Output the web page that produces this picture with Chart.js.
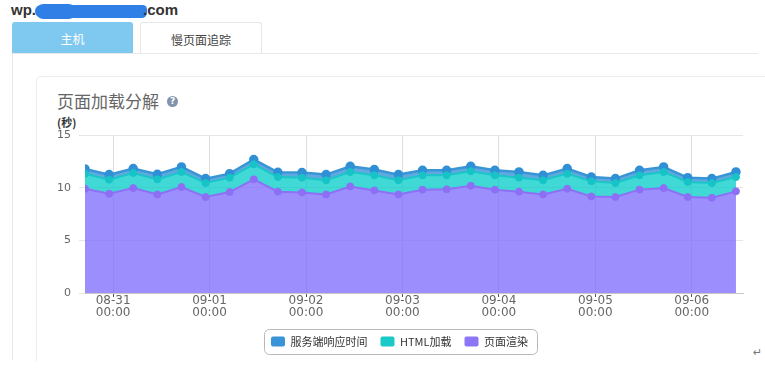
<!DOCTYPE html>
<html><head><meta charset="utf-8">
<script src="https://cdn.jsdelivr.net/npm/chart.js@4/dist/chart.umd.min.js"></script>
<style>
html,body{margin:0;padding:0;background:#fff;width:765px;height:381px;overflow:hidden;font-family:"Noto Sans CJK SC","Liberation Sans",sans-serif;}
.abs{position:absolute;}
#site1,#site2{font:bold 15px "Liberation Sans",Arial,sans-serif;color:#333;line-height:17px;top:1px;}
#site1{left:11px;} #site2{left:143px;}
#blob{left:35px;top:5px;width:112px;height:13px;background:#2f7fe6;border-radius:7px 5px 6px 8px;}
#blob2{left:36px;top:4px;width:40px;height:15px;background:#2f7fe6;border-radius:8px;}
#tab1{left:12px;top:22px;width:121px;height:31px;background:#7fc9f0;color:#fff;font-size:12px;line-height:34px;text-align:center;border-radius:3px 3px 0 0;}
#tab2{left:140px;top:22px;width:120px;height:31px;border:1px solid #e6e6e6;border-bottom:none;background:#fff;color:#444;font-size:12px;line-height:33px;text-align:center;border-radius:3px 3px 0 0;}
#hline{left:12px;top:53px;width:746px;height:1px;background:#e8e8e8;}
#vline{left:12px;top:53px;width:1px;height:307px;background:#e8e8e8;}
#card{left:36px;top:76px;width:800px;height:284px;border:1px solid #ececec;border-bottom:none;border-radius:5px 0 0 0;}
#title{left:57px;top:91px;font-size:17px;line-height:20px;color:#666;}
#qicon{left:167px;top:96px;width:11px;height:11px;border-radius:50%;background:#8193ad;color:#fff;font:bold 9px "DejaVu Sans",sans-serif;line-height:11px;text-align:center;}
#unit{left:57px;top:115px;font-size:11px;font-weight:bold;line-height:14px;color:#333;}
#ret{left:753px;top:346px;font:11px "DejaVu Sans",sans-serif;color:#777;}
#wrap{left:40px;top:112px;width:720px;height:248px;}
</style></head>
<body>
<div class="abs" id="site1">wp.</div>
<div class="abs" id="blob"></div><div class="abs" id="blob2"></div>
<div class="abs" id="site2">.com</div>
<div class="abs" id="tab1">主机</div>
<div class="abs" id="tab2">慢页面追踪</div>
<div class="abs" id="hline"></div>
<div class="abs" id="vline"></div>
<div class="abs" id="card"></div>
<div class="abs" id="title">页面加载分解</div>
<div class="abs" id="qicon">?</div>
<div class="abs" id="unit">(秒)</div>
<div class="abs" id="ret">↵</div>
<div class="abs" id="wrap"><canvas id="c" width="720" height="248"></canvas></div>
<script>
// ---- data ----
const times = ['08-30 17:00','08-30 23:00','08-31 05:00','08-31 11:00','08-31 17:00','08-31 23:00',
  '09-01 05:00','09-01 11:00','09-01 17:00','09-01 23:00','09-02 05:00','09-02 11:00','09-02 17:00',
  '09-02 23:00','09-03 05:00','09-03 11:00','09-03 17:00','09-03 23:00','09-04 05:00','09-04 11:00',
  '09-04 17:00','09-04 23:00','09-05 05:00','09-05 11:00','09-05 17:00','09-05 23:00','09-06 05:00','09-06 11:00'];
const seriesNames = ['服务端响应时间','HTML加载','页面渲染'];
const serverResp = [0.45,0.48,0.41,0.48,0.48,0.42,0.38,0.45,0.45,0.48,0.54,0.54,0.55,0.54,0.48,0.48,0.47,0.48,0.54,0.47,0.48,0.41,0.42,0.48,0.48,0.41,0.42,0.48];
const htmlLoad   = [1.43,1.33,1.44,1.43,1.43,1.33,1.37,1.43,1.39,1.40,1.34,1.37,1.43,1.34,1.36,1.33,1.37,1.36,1.33,1.34,1.43,1.43,1.33,1.36,1.53,1.43,1.40,1.36];
const pageRender = [9.90,9.43,9.96,9.36,10.06,9.11,9.58,10.79,9.62,9.55,9.36,10.12,9.74,9.36,9.81,9.84,10.19,9.81,9.62,9.36,9.90,9.17,9.11,9.81,9.96,9.11,9.04,9.65];
const tickDates = ['08-31','09-01','09-02','09-03','09-04','09-05','09-06'];
const tickTime = '00:00';
const yTicks = [0,5,10,15];

// ---- helpers ----
function toHours(s){
  const [md,hm] = s.split(' ');
  const [m,d] = md.split('-').map(Number);
  const [h,mi] = hm.split(':').map(Number);
  return (Date.UTC(2001,m-1,d,h,mi) - Date.UTC(2001,7,31,0,0))/3600000;
}
const pts = arr => times.map((t,i)=>({x:toHours(t), y:arr[i]}));
const tickVals = tickDates.map(d=>toHours(d+' '+tickTime));

const legendFrame = {
  id:'legendFrame',
  afterDraw(chart){
    const hb = chart.legend && chart.legend.legendHitBoxes;
    if(!hb || !hb.length) return;
    const ctx = chart.ctx;
    const l = Math.round(Math.min(...hb.map(h=>h.left)) - 7);
    const r = Math.round(Math.max(...hb.map(h=>h.left+h.width)) + 9);
    const cy = Math.round(hb[0].top + hb[0].height/2);
    ctx.save();
    ctx.strokeStyle = '#b8b8b8'; ctx.lineWidth = 1;
    ctx.beginPath();
    ctx.roundRect(l+0.5, cy-12.5, r-l, 25, 5);
    ctx.stroke();
    ctx.restore();
  }
};

const tickFont = {family:'"DejaVu Sans", sans-serif', size:12, lineHeight:1.0};
new Chart(document.getElementById('c'), {
  type:'line',
  data:{datasets:[
    {label:seriesNames[2], data:pts(pageRender), borderColor:'#8c70f5', backgroundColor:'rgba(124,104,252,0.75)',
     pointBackgroundColor:'#8d6ff5', pointBorderColor:'#8d6ff5', fill:'origin', legendColor:'#8d76f5'},
    {label:seriesNames[1], data:pts(htmlLoad), borderColor:'#19c6c8', backgroundColor:'rgba(0,204,200,0.75)',
     pointBackgroundColor:'#16c3c6', pointBorderColor:'#16c3c6', fill:'-1', legendColor:'#19cac7'},
    {label:seriesNames[0], data:pts(serverResp), borderColor:'#3a95d7', backgroundColor:'rgba(40,140,210,0.75)',
     pointBackgroundColor:'#2f90d6', pointBorderColor:'#2f90d6', fill:'-1', borderWidth:2.5, legendColor:'#3a94d8'}
  ]},
  options:{
    responsive:false, animation:false,
    layout:{padding:{left:16,right:17,top:23,bottom:3}},
    elements:{line:{borderWidth:2, tension:0}, point:{radius:3.5, borderWidth:1}},
    scales:{
      x:{type:'linear', min:toHours(times[0]), max:toHours(times[times.length-1])+1.75,
         afterBuildTicks:ax=>{ax.ticks = tickVals.map(v=>({value:v}));},
         afterFit:ax=>{ax.height = 30;},
         ticks:{autoSkip:false, maxRotation:0, padding:-2, color:'#666', font:tickFont,
           callback:v=>{const i = tickVals.indexOf(v); return i<0 ? '' : [tickDates[i], tickTime];}},
         grid:{color:'#dedede', tickColor:'#555', tickLength:4},
         border:{display:true, color:'#c8c8c8'}},
      y:{stacked:true, min:0, max:15,
         afterBuildTicks:ax=>{ax.ticks = yTicks.map(v=>({value:v}));},
         afterFit:ax=>{ax.width = 29;},
         ticks:{padding:8, color:'#666', font:{family:'"DejaVu Sans", sans-serif', size:11}},
         grid:{color:'#e6e6e6', tickLength:6},
         border:{display:false}}
    },
    plugins:{
      tooltip:{enabled:false},
      legend:{position:'bottom', reverse:true,
        labels:{boxWidth:14, boxHeight:10, padding:13, color:'#333', useBorderRadius:true, borderRadius:2,
          font:{family:'"Noto Sans CJK SC", sans-serif', size:11},
          generateLabels:chart=>{
            const items = Chart.defaults.plugins.legend.labels.generateLabels(chart);
            items.forEach(it=>{const ds = chart.data.datasets[it.datasetIndex]; it.fillStyle = ds.legendColor; it.strokeStyle = ds.legendColor; it.lineWidth = 0;});
            return items;
          }}}
    }
  },
  plugins:[legendFrame]
});
</script>
</body></html>
